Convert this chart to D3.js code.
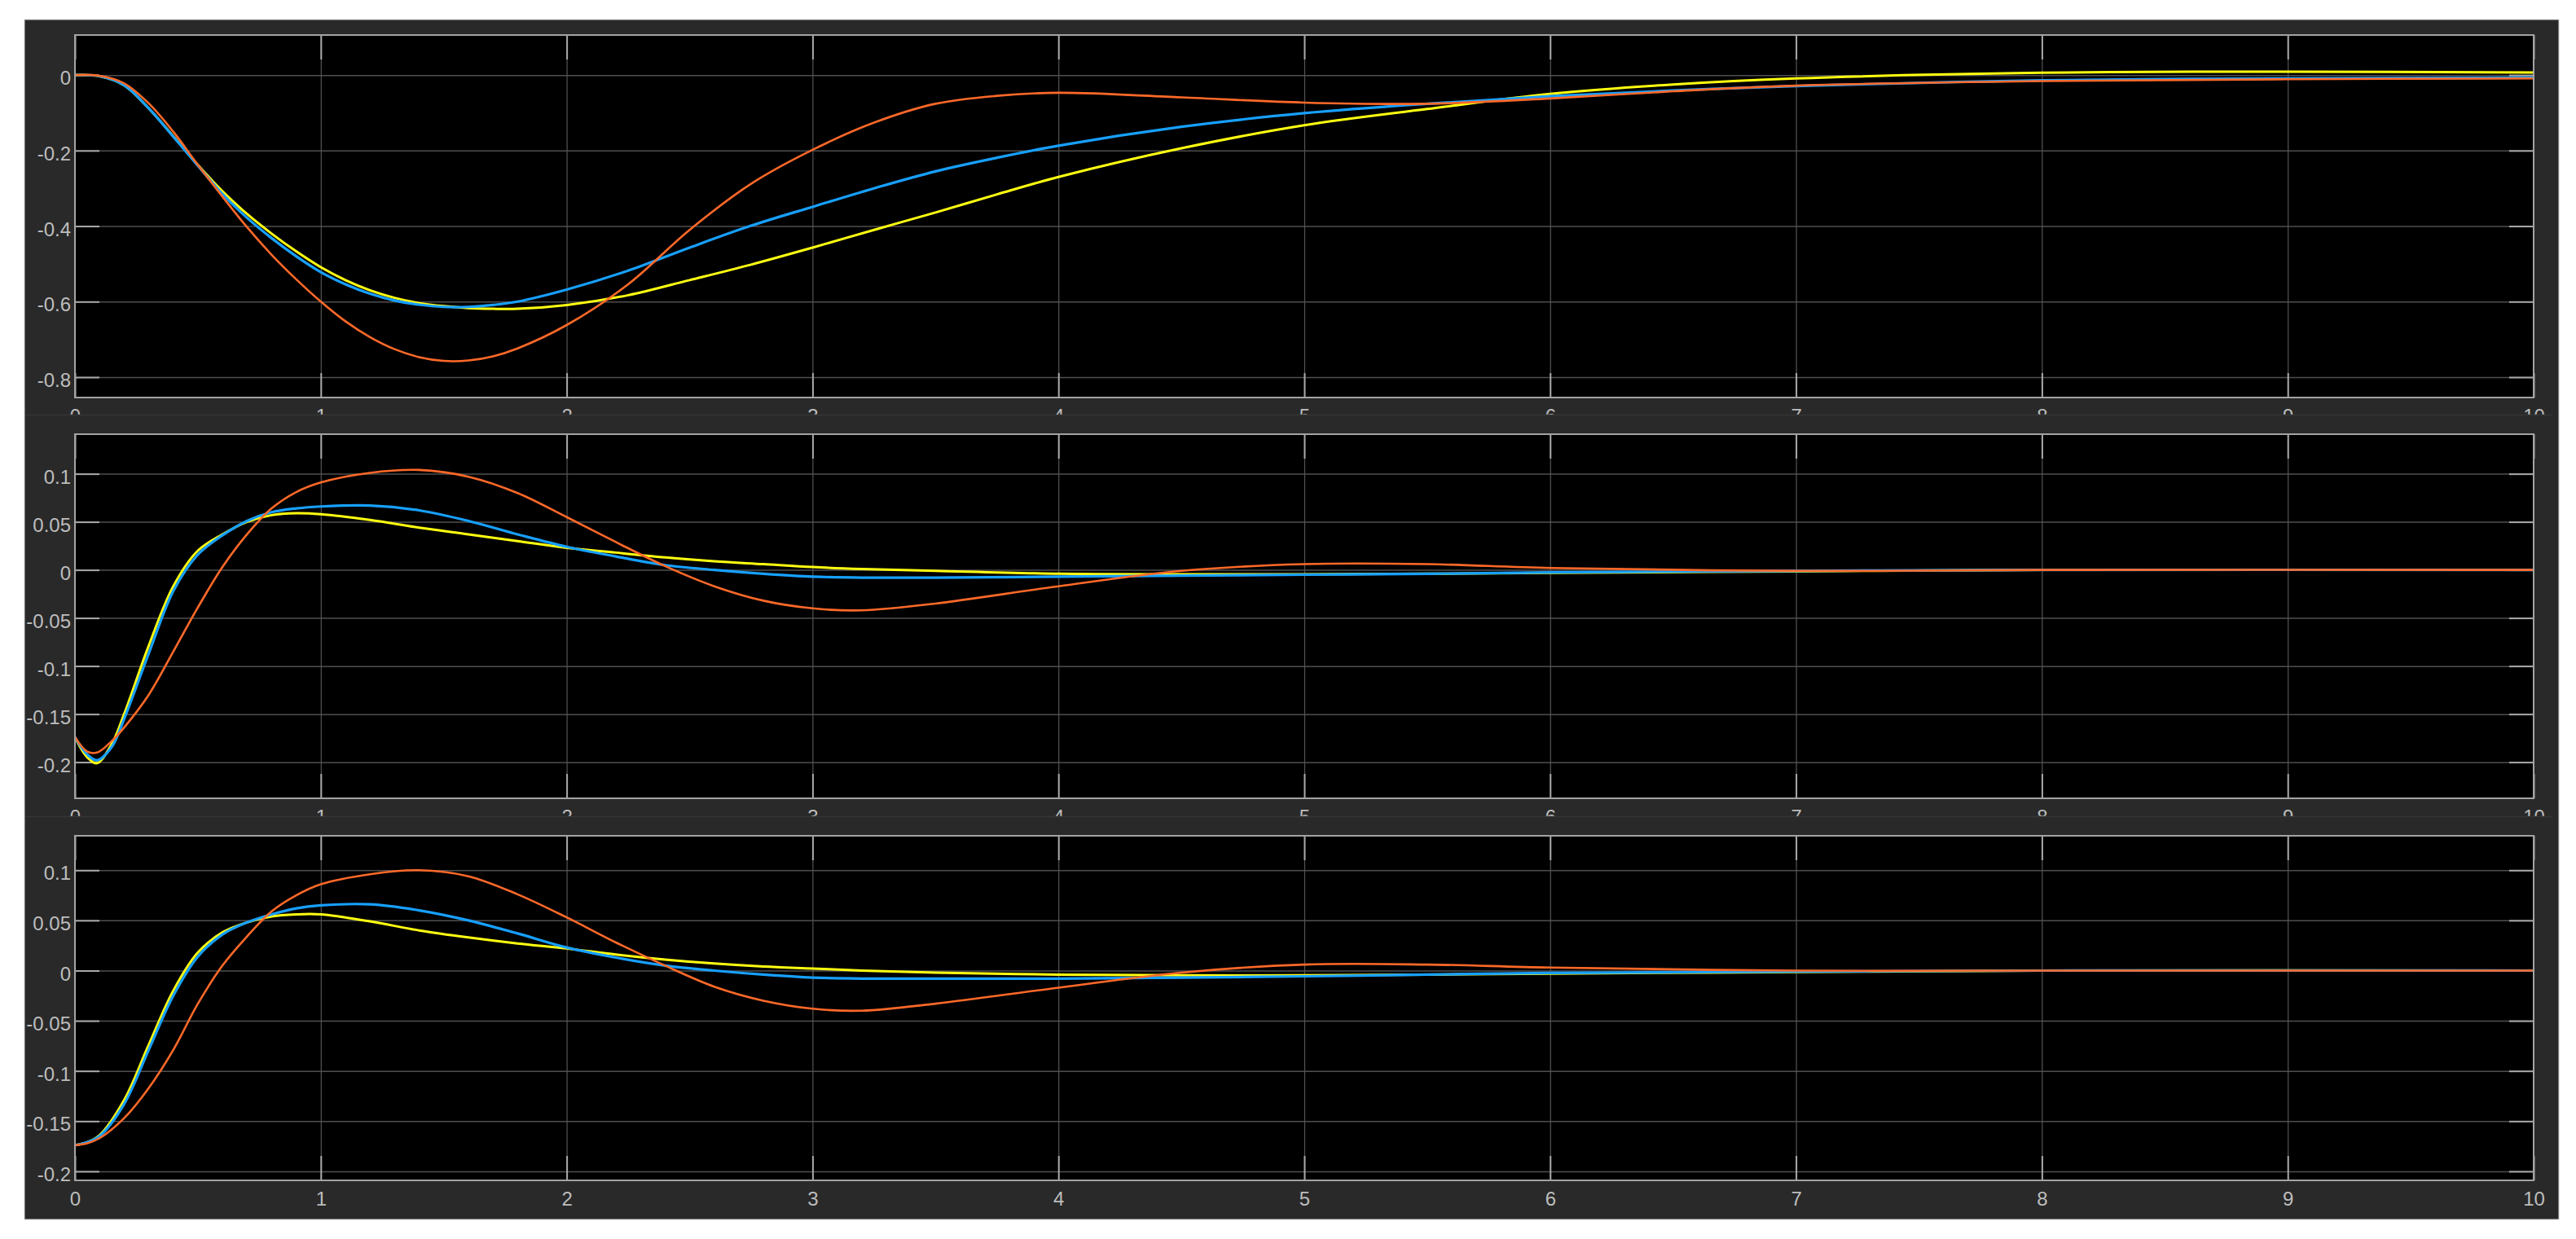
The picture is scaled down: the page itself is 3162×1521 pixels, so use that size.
<!DOCTYPE html>
<html lang="en">
<head>
    <meta charset="UTF-8">
    <title>Scope</title>
    <script src="https://d3js.org/d3.v7.min.js"></script>
    <style>
        body {
            margin: 0;
            padding: 0;
            background-color: #fff;
        }
        svg {
            display: block;
            font-family: "Liberation Sans", Arial, Helvetica, sans-serif;
        }
    </style>
</head>
<body>
    <div id="scope"></div>

    <script>
        // x axis ticks (seconds), shared by all three plots
        const xTicks = [0, 1, 2, 3, 4, 5, 6, 7, 8, 9, 10];

        // ---- plot 1 ----
        const time1 = [0, 0.1, 0.2, 0.3, 0.4, 0.5, 0.6, 0.7, 0.8, 0.9, 1.0, 1.1, 1.2, 1.3, 1.4, 1.5, 1.6, 1.7, 1.8, 2.0,
                       2.25, 2.5, 2.75, 3.0, 3.25, 3.5, 3.75, 4.0, 4.5, 5.0, 5.5, 6.0, 6.5, 7.0, 8.0, 9.0, 10.0];
        const yellow1 = [0, -0.003, -0.027, -0.088, -0.162, -0.238, -0.308, -0.368, -0.42, -0.467, -0.509, -0.543, -0.57, -0.59, -0.604, -0.612, -0.617, -0.619, -0.619, -0.609,
                         -0.583, -0.543, -0.502, -0.457, -0.41, -0.364, -0.316, -0.27, -0.194, -0.133, -0.09, -0.05, -0.025, -0.009, 0.006, 0.009, 0.007];
        const blue1 = [0, -0.003, -0.027, -0.088, -0.163, -0.24, -0.315, -0.378, -0.432, -0.48, -0.522, -0.554, -0.579, -0.597, -0.608, -0.614, -0.614, -0.609, -0.600, -0.568,
                       -0.518, -0.457, -0.399, -0.349, -0.30, -0.255, -0.219, -0.187, -0.137, -0.101, -0.076, -0.056, -0.041, -0.029, -0.014, -0.009, -0.007];
        const orange1 = [0, -0.002, -0.022, -0.075, -0.15, -0.238, -0.322, -0.403, -0.476, -0.541, -0.600, -0.652, -0.694, -0.726, -0.747, -0.757, -0.756, -0.745, -0.724, -0.662,
                         -0.554, -0.41, -0.288, -0.198, -0.126, -0.076, -0.055, -0.047, -0.059, -0.073, -0.076, -0.062, -0.043, -0.028, -0.016, -0.011, -0.009];
        const yTicks1 = [0, -0.2, -0.4, -0.6, -0.8];

        // ---- plot 2 ----
        const time2 = [0, 0.05, 0.09, 0.15, 0.2, 0.3, 0.4, 0.5, 0.6, 0.7, 0.8, 0.9, 1.0, 1.2, 1.4, 1.6, 1.8,
                       2.0, 2.2, 2.4, 2.6, 2.8, 3.0, 3.2, 3.5, 4.0, 4.5, 5.0, 5.5, 6.0, 7.0, 8.0, 10.0];
        const yellow2 = [-0.174, -0.195, -0.201, -0.181, -0.15, -0.079, -0.017, 0.02, 0.037, 0.05, 0.057, 0.059, 0.058, 0.052, 0.044, 0.037, 0.03,
                         0.023, 0.018, 0.013, 0.009, 0.006, 0.003, 0.001, -0.001, -0.004, -0.0045, -0.0045, -0.004, -0.003, -0.0015, 0, 0];
        const blue2 = [-0.174, -0.192, -0.198, -0.184, -0.155, -0.087, -0.022, 0.016, 0.036, 0.051, 0.06, 0.064, 0.066, 0.067, 0.062, 0.051, 0.037,
                       0.024, 0.014, 0.005, 0.0, -0.004, -0.007, -0.008, -0.008, -0.007, -0.006, -0.005, -0.004, -0.0025, -0.001, 0, 0];
        const orange2 = [-0.174, -0.189, -0.19, -0.178, -0.164, -0.13, -0.085, -0.039, 0.003, 0.037, 0.064, 0.081, 0.091, 0.101, 0.104, 0.097, 0.08,
                         0.055, 0.029, 0.004, -0.017, -0.032, -0.040, -0.042, -0.035, -0.017, -0.001, 0.006, 0.006, 0.002, -0.001, 0, 0];
        const yTicks2 = [0.1, 0.05, 0, -0.05, -0.1, -0.15, -0.2];

        // ---- plot 3 ----
        const time3 = [0, 0.05, 0.1, 0.2, 0.3, 0.4, 0.5, 0.6, 0.7, 0.8, 0.9, 1.0, 1.2, 1.4, 1.6, 1.8,
                       2.0, 2.2, 2.4, 2.6, 2.8, 3.0, 3.2, 3.5, 4.0, 4.5, 5.0, 5.5, 6.0, 7.0, 8.0, 10.0];
        const yellow3 = [-0.174, -0.171, -0.164, -0.129, -0.074, -0.020, 0.018, 0.038, 0.048, 0.054, 0.056, 0.056, 0.049, 0.040, 0.033, 0.027,
                         0.022, 0.016, 0.011, 0.007, 0.004, 0.002, 0.0, -0.002, -0.004, -0.0047, -0.0047, -0.004, -0.003, -0.0015, 0, 0];
        const blue3 = [-0.174, -0.171, -0.165, -0.133, -0.079, -0.025, 0.014, 0.036, 0.048, 0.056, 0.062, 0.065, 0.066, 0.060, 0.050, 0.037,
                       0.023, 0.013, 0.005, 0.0, -0.004, -0.007, -0.008, -0.008, -0.008, -0.007, -0.0057, -0.004, -0.0024, -0.001, 0, 0];
        const orange3 = [-0.174, -0.172, -0.167, -0.147, -0.117, -0.079, -0.033, 0.005, 0.034, 0.059, 0.075, 0.086, 0.096, 0.100, 0.094, 0.076,
                         0.053, 0.028, 0.005, -0.016, -0.030, -0.038, -0.040, -0.033, -0.017, -0.002, 0.006, 0.006, 0.003, 0.0, 0, 0];
        const yTicks3 = [0.1, 0.05, 0, -0.05, -0.1, -0.15, -0.2];

        const W = 3162, H = 1521;
        const left = 92, right = 3110;
        const tickLen = 30;

        // panel layout: dark band, axes box, y limits
        const panels = [
            { top: 24, bottom: 509, plotTop: 43, plotBottom: 488, yMin: -0.854, yMax: 0.106,
              time: time1, series: [yellow1, blue1, orange1], yTicks: yTicks1 },
            { top: 509, bottom: 1002, plotTop: 533, plotBottom: 980, yMin: -0.2376, yMax: 0.1412,
              time: time2, series: [yellow2, blue2, orange2], yTicks: yTicks2 },
            { top: 1002, bottom: 1497, plotTop: 1026, plotBottom: 1449, yMin: -0.209, yMax: 0.1343,
              time: time3, series: [yellow3, blue3, orange3], yTicks: yTicks3 }
        ];
        const lineColors = ["#ffff11", "#17a0ff", "#ff6929"];
        const lineWidths = [3, 3.2, 2.6];

        const svg = d3.select("#scope").append("svg")
            .attr("width", W)
            .attr("height", H);

        svg.append("rect")
            .attr("x", 30).attr("y", 24)
            .attr("width", 3111).attr("height", 1473)
            .attr("fill", "#292929")
            .attr("stroke", "#cfcfcf")
            .attr("stroke-width", 1);

        const x = d3.scaleLinear().domain([0, 10]).range([left, right]);

        panels.forEach((p, i) => {
            const y = d3.scaleLinear().domain([p.yMin, p.yMax]).range([p.plotBottom, p.plotTop]);
            const g = svg.append("g");

            if (i > 0) {
                g.append("line")
                    .attr("x1", 31).attr("x2", 3133)
                    .attr("y1", p.top + 0.5).attr("y2", p.top + 0.5)
                    .attr("stroke", "#353535")
                    .attr("stroke-width", 1.5);
            }

            g.append("rect")
                .attr("x", left).attr("y", p.plotTop)
                .attr("width", right - left).attr("height", p.plotBottom - p.plotTop)
                .attr("fill", "#000");

            // grid lines
            g.append("g")
                .attr("transform", `translate(${left},0)`)
                .call(d3.axisLeft(y).tickValues(p.yTicks).tickSize(-(right - left)).tickFormat(""))
                .call(a => a.select(".domain").remove())
                .call(a => a.selectAll("line").attr("stroke", "#4f4f4f").attr("stroke-width", 1.5));
            g.append("g")
                .attr("transform", `translate(0,${p.plotBottom})`)
                .call(d3.axisBottom(x).tickValues(xTicks).tickSize(-(p.plotBottom - p.plotTop)).tickFormat(""))
                .call(a => a.select(".domain").remove())
                .call(a => a.selectAll("line").attr("stroke", "#555").attr("stroke-width", 1.2));

            // inner ticks on all four sides
            const yLeft = g.append("g")
                .attr("transform", `translate(${left},0)`)
                .call(d3.axisLeft(y).tickValues(p.yTicks).tickSizeInner(-tickLen).tickSizeOuter(0)
                    .tickPadding(5).tickFormat(d => String(d)));
            g.append("g")
                .attr("transform", `translate(${right},0)`)
                .call(d3.axisRight(y).tickValues(p.yTicks).tickSizeInner(-tickLen).tickSizeOuter(0).tickFormat(""));

            // x labels are cut off at the edge of the band, like the scope window does
            const bandClip = "band" + i;
            svg.append("clipPath").attr("id", bandClip)
                .append("rect").attr("x", 0).attr("y", p.top).attr("width", W).attr("height", p.bottom - p.top);
            g.append("g")
                .attr("clip-path", `url(#${bandClip})`)
                .append("g")
                .attr("transform", `translate(0,${p.plotBottom})`)
                .call(d3.axisBottom(x).tickValues(xTicks).tickSizeInner(-tickLen).tickSizeOuter(0)
                    .tickPadding(14).tickFormat(d => String(d)));
            g.append("g")
                .attr("transform", `translate(0,${p.plotTop})`)
                .call(d3.axisTop(x).tickValues(xTicks).tickSizeInner(-tickLen).tickSizeOuter(0).tickFormat(""));

            g.selectAll(".domain").remove();
            g.selectAll(".tick line").filter(function () { return this.getAttribute("stroke") === "currentColor"; })
                .attr("stroke", "#a9a9a9").attr("stroke-width", 2);
            yLeft.selectAll("text").attr("dy", "0.48em");
            g.selectAll("text")
                .attr("fill", "#bdbdbd")
                .attr("font-size", 24)
                .attr("font-family", "'Liberation Sans', Arial, Helvetica, sans-serif");

            // data
            const clipId = "plot" + i;
            svg.append("clipPath").attr("id", clipId)
                .append("rect")
                .attr("x", left).attr("y", p.plotTop)
                .attr("width", right - left).attr("height", p.plotBottom - p.plotTop);

            const line = d3.line()
                .x(d => x(d[0]))
                .y(d => y(d[1]))
                .curve(d3.curveCatmullRom.alpha(0.5));

            const lines = g.append("g").attr("clip-path", `url(#${clipId})`);
            p.series.forEach((s, k) => {
                lines.append("path")
                    .datum(p.time.map((t, j) => [t, s[j]]))
                    .attr("d", line)
                    .attr("fill", "none")
                    .attr("stroke", lineColors[k])
                    .attr("stroke-width", lineWidths[k])
                    .attr("stroke-linejoin", "round");
            });

            // axes box
            g.append("rect")
                .attr("x", left).attr("y", p.plotTop)
                .attr("width", right - left).attr("height", p.plotBottom - p.plotTop)
                .attr("fill", "none")
                .attr("stroke", "#a3a3a3")
                .attr("stroke-width", 2);
        });
    </script>
</body>
</html>
